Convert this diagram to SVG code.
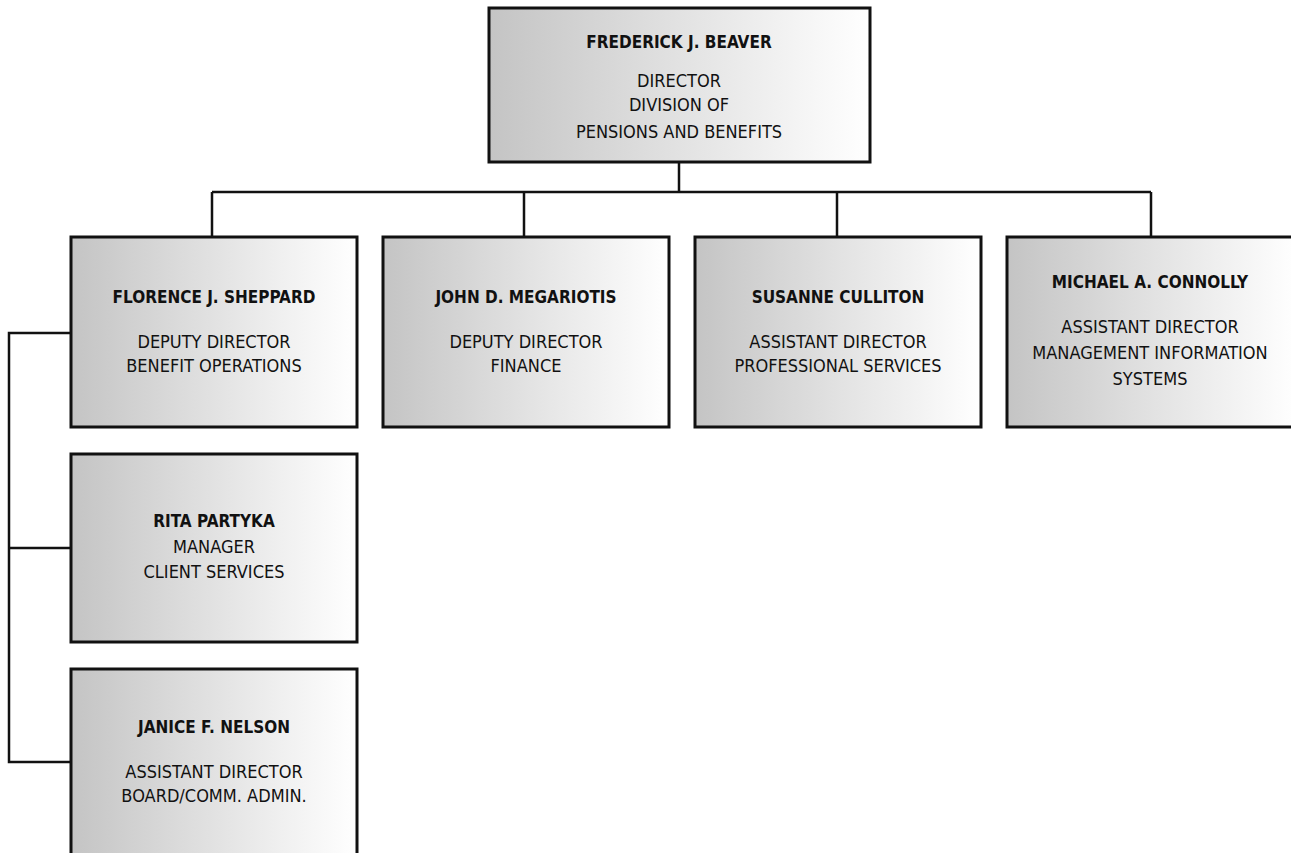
<svg xmlns="http://www.w3.org/2000/svg" width="1291" height="853" viewBox="0 0 1291 853">
<defs>
<linearGradient id="g" x1="0" y1="0" x2="1" y2="0">
<stop offset="0" stop-color="#c4c4c4"/>
<stop offset="0.5" stop-color="#e2e2e2"/>
<stop offset="1" stop-color="#ffffff"/>
</linearGradient>
<style>
.box{fill:url(#g);stroke:#111;stroke-width:3}
.ln{fill:none;stroke:#111;stroke-width:2.5}
.dot{fill:none;stroke:#999;stroke-width:1;stroke-dasharray:1,4}
text{font-family:"DejaVu Sans Condensed","DejaVu Sans","Liberation Sans",sans-serif;font-stretch:condensed;font-size:18px;fill:#111;text-anchor:middle}
.b{font-weight:bold;font-size:17px}
</style>
</defs>
<g id="connectors">
<path class="ln" d="M679 162V192M212 192H1151M212 192V237M524 192V237M837 192V237M1151 192V237"/>
<path class="ln" d="M71 333H9V762H71M9 548H71"/>
<path class="dot" d="M74 333H116M74 548H116M74 762H116"/>
</g>
<g id="n-beaver">
<rect class="box" x="489" y="8" width="381" height="154"/>
<text class="b" x="679" y="48">FREDERICK J. BEAVER</text>
<text x="679" y="87">DIRECTOR</text>
<text x="679" y="111">DIVISION OF</text>
<text x="679" y="138">PENSIONS AND BENEFITS</text>
</g>
<g id="n-sheppard">
<rect class="box" x="71" y="237" width="286" height="190"/>
<text class="b" x="214" y="303">FLORENCE J. SHEPPARD</text>
<text x="214" y="348">DEPUTY DIRECTOR</text>
<text x="214" y="372">BENEFIT OPERATIONS</text>
</g>
<g id="n-megariotis">
<rect class="box" x="383" y="237" width="286" height="190"/>
<text class="b" x="526" y="303">JOHN D. MEGARIOTIS</text>
<text x="526" y="348">DEPUTY DIRECTOR</text>
<text x="526" y="372">FINANCE</text>
</g>
<g id="n-culliton">
<rect class="box" x="695" y="237" width="286" height="190"/>
<text class="b" x="838" y="303">SUSANNE CULLITON</text>
<text x="838" y="348">ASSISTANT DIRECTOR</text>
<text x="838" y="372">PROFESSIONAL SERVICES</text>
</g>
<g id="n-connolly">
<rect class="box" x="1007" y="237" width="290" height="190"/>
<text class="b" x="1150" y="288">MICHAEL A. CONNOLLY</text>
<text x="1150" y="333">ASSISTANT DIRECTOR</text>
<text x="1150" y="359">MANAGEMENT INFORMATION</text>
<text x="1150" y="385">SYSTEMS</text>
</g>
<g id="n-partyka">
<rect class="box" x="71" y="454" width="286" height="188"/>
<text class="b" x="214" y="527">RITA PARTYKA</text>
<text x="214" y="553">MANAGER</text>
<text x="214" y="578">CLIENT SERVICES</text>
</g>
<g id="n-nelson">
<rect class="box" x="71" y="669" width="286" height="200"/>
<text class="b" x="214" y="733">JANICE F. NELSON</text>
<text x="214" y="778">ASSISTANT DIRECTOR</text>
<text x="214" y="802">BOARD/COMM. ADMIN.</text>
</g>
</svg>
